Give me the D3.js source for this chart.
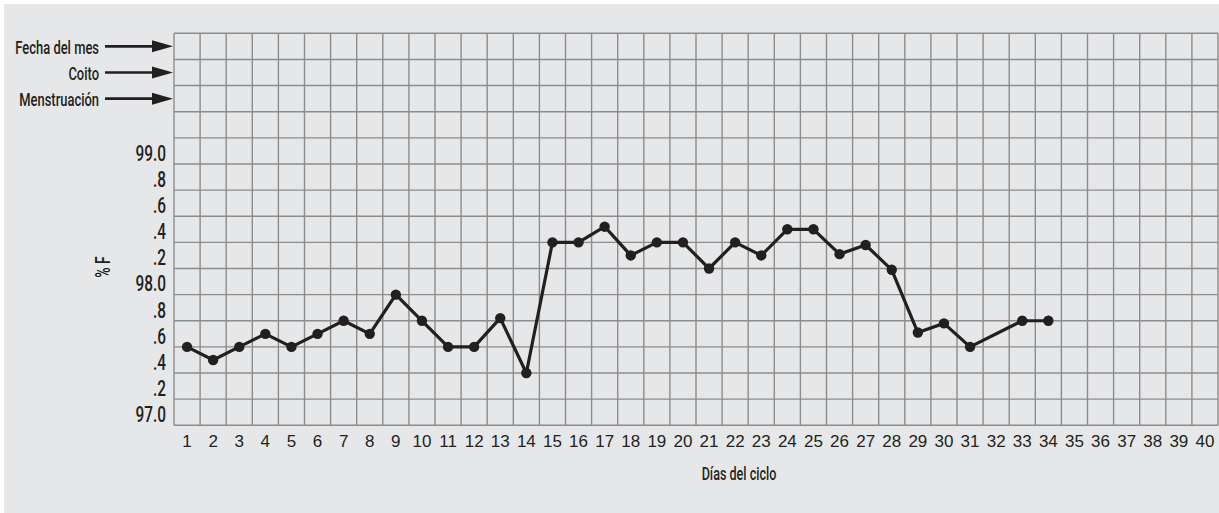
<!DOCTYPE html>
<html>
<head>
<meta charset="utf-8">
<script src="https://cdn.jsdelivr.net/npm/d3@7"></script>
<style>
  body { margin: 0; background: #fff; }
  .cond { font-family: Roboto, "DejaVu Sans", sans-serif; font-weight: 500; }
</style>
</head>
<body>
<script>
// days of the cycle shown on the x axis
const days = d3.range(1, 41);
// measured days (day 32 has no reading)
const tempDays = [1, 2, 3, 4, 5, 6, 7, 8, 9, 10, 11, 12, 13, 14, 15, 16, 17, 18, 19, 20,
                  21, 22, 23, 24, 25, 26, 27, 28, 29, 30, 31, 33, 34];
const temps = [97.5, 97.4, 97.5, 97.6, 97.5, 97.6, 97.7, 97.6, 97.9, 97.7, 97.5, 97.5, 97.72, 97.3,
               98.3, 98.3, 98.42, 98.2, 98.3, 98.3, 98.1, 98.3, 98.2, 98.4, 98.4, 98.21, 98.28, 98.09,
               97.61, 97.68, 97.5, 97.7, 97.7];
const yTicks = [97.0, 97.2, 97.4, 97.6, 97.8, 98.0, 98.2, 98.4, 98.6, 98.8, 99.0];
const yTickLabels = ["97.0", ".2", ".4", ".6", ".8", "98.0", ".2", ".4", ".6", ".8", "99.0"];
const rowLabels = ["Fecha del mes", "Coito", "Menstruación"];
const rowValues = [99.8, 99.6, 99.4];

const width = 1219, height = 513;
const margin = { top: 33.3, left: 174, bottom: 87.7 };
const colW = 26.1;
const squeeze = 0.7; // narrow look for the condensed labels

const svg = d3.select("body").append("svg")
    .attr("width", width)
    .attr("height", height);

// grey panel
svg.append("rect")
    .attr("x", 4).attr("y", 4)
    .attr("width", width - 4).attr("height", height - 4)
    .attr("fill", "#e6e7e9");

const x = d3.scaleBand()
    .domain(days)
    .range([margin.left, margin.left + days.length * colW]);

// 15 rows of 0.2 degrees each, labels sit in row centres
const y = d3.scaleLinear()
    .domain([96.9, 99.9])
    .range([height - margin.bottom, margin.top]);

const grid = svg.append("g")
    .attr("stroke", "#8c8c8c")
    .attr("stroke-width", 1.4);

// vertical grid lines
grid.selectAll("line.v")
    .data(days.concat([days.length + 1]))
    .join("line")
    .attr("x1", d => d <= days.length ? x(d) : x(days.length) + x.bandwidth())
    .attr("x2", d => d <= days.length ? x(d) : x(days.length) + x.bandwidth())
    .attr("y1", y(99.9))
    .attr("y2", y(96.9));

// horizontal grid lines
grid.selectAll("line.h")
    .data(d3.range(16).map(k => 96.9 + k * 0.2))
    .join("line")
    .attr("x1", x(1))
    .attr("x2", x(days.length) + x.bandwidth())
    .attr("y1", d => y(d))
    .attr("y2", d => y(d));

// y tick labels
svg.append("g")
    .attr("class", "cond")
    .selectAll("text")
    .data(yTicks)
    .join("text")
    .attr("transform", d => `translate(166,${y(d) + 2}) scale(${squeeze},1)`)
    .attr("dy", "0.36em")
    .attr("text-anchor", "end")
    .attr("font-size", 22)
    .attr("fill", "#231f20")
    .text((d, i) => yTickLabels[i]);

// x tick labels
svg.append("g")
    .selectAll("text")
    .data(days)
    .join("text")
    .attr("x", d => x(d) + x.bandwidth() / 2)
    .attr("y", 441)
    .attr("dy", "0.35em")
    .attr("text-anchor", "middle")
    .attr("font-family", "'Liberation Sans', Arial, sans-serif")
    .attr("font-size", 17)
    .attr("fill", "#231f20")
    .text(d => d);

// row labels with arrows
const rows = svg.append("g").attr("class", "cond");
rows.selectAll("text")
    .data(rowLabels)
    .join("text")
    .attr("transform", (d, i) => `translate(99,${y(rowValues[i]) + 1}) scale(${squeeze},1)`)
    .attr("dy", "0.36em")
    .attr("text-anchor", "end")
    .attr("font-size", 18.5)
    .attr("fill", "#231f20")
    .text(d => d);

rows.selectAll("line")
    .data(rowValues)
    .join("line")
    .attr("x1", 105).attr("x2", 156)
    .attr("y1", d => y(d)).attr("y2", d => y(d))
    .attr("stroke", "#231f20")
    .attr("stroke-width", 2.6);

rows.selectAll("path")
    .data(rowValues)
    .join("path")
    .attr("d", d => `M152,${y(d) - 6}L173,${y(d)}L152,${y(d) + 6}Z`)
    .attr("fill", "#231f20");

// axis titles
svg.append("text")
    .attr("class", "cond")
    .attr("transform", `translate(103,267) rotate(-90) scale(${squeeze},1)`)
    .attr("text-anchor", "middle")
    .attr("dy", "0.36em")
    .attr("font-size", 20)
    .attr("fill", "#231f20")
    .text("% F");

svg.append("text")
    .attr("class", "cond")
    .attr("transform", `translate(739,474) scale(${squeeze},1)`)
    .attr("dy", "0.36em")
    .attr("text-anchor", "middle")
    .attr("font-size", 18)
    .attr("fill", "#231f20")
    .text("Días del ciclo");

// temperature line
const points = tempDays.map((d, i) => ({ day: d, temp: temps[i] }));
const line = d3.line()
    .x(d => x(d.day) + x.bandwidth() / 2)
    .y(d => y(d.temp));

svg.append("path")
    .datum(points)
    .attr("d", line)
    .attr("fill", "none")
    .attr("stroke", "#231f20")
    .attr("stroke-width", 3.2)
    .attr("stroke-linejoin", "round");

svg.append("g")
    .selectAll("circle")
    .data(points)
    .join("circle")
    .attr("cx", d => x(d.day) + x.bandwidth() / 2)
    .attr("cy", d => y(d.temp))
    .attr("r", 5.2)
    .attr("fill", "#231f20");
</script>
</body>
</html>
